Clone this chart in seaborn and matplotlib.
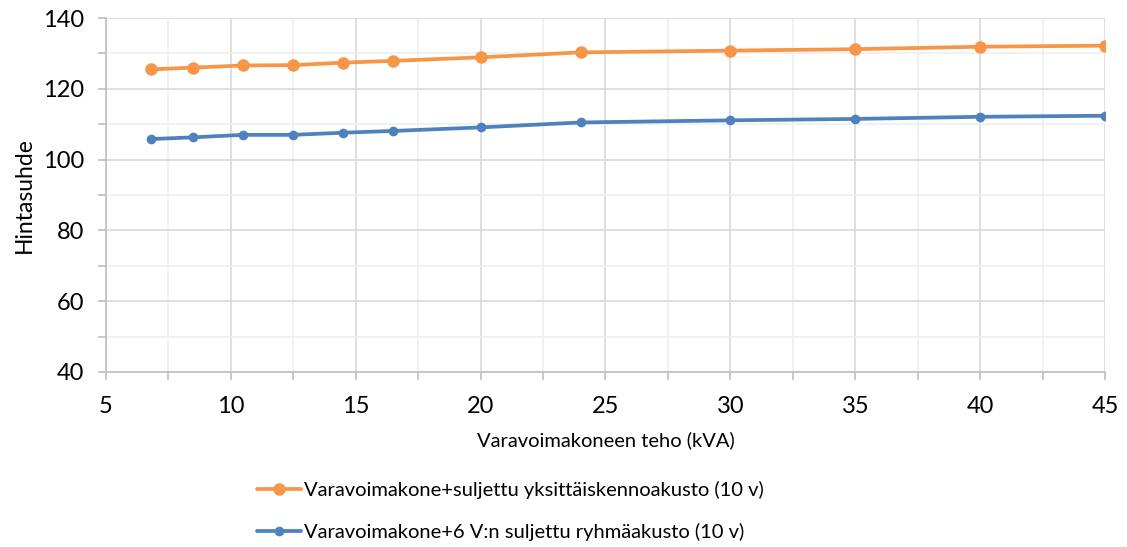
import pandas as pd
import matplotlib
matplotlib.use("Agg")
import matplotlib.pyplot as plt
from matplotlib.ticker import MultipleLocator
import seaborn as sns

# Data
teho = [6.8, 8.5, 10.5, 12.5, 14.5, 16.5, 20, 24, 30, 35, 40, 45]
yksittais = [125.5, 126.0, 126.6, 126.7, 127.4, 127.9, 128.9, 130.3, 130.8, 131.2, 131.9, 132.2]
ryhma = [105.8, 106.3, 107.0, 107.0, 107.6, 108.1, 109.1, 110.5, 111.1, 111.5, 112.1, 112.4]

label_orange = "Varavoimakone+suljettu yksittäiskennoakusto (10 v)"
label_blue = "Varavoimakone+6 V:n suljettu ryhmäakusto (10 v)"

df = pd.DataFrame({"teho": teho, "yksittais": yksittais, "ryhma": ryhma})

sns.set_style("white")
plt.rcParams['font.family'] = ['Lato', 'DejaVu Sans']
plt.rcParams['text.color'] = 'black'
plt.rcParams['axes.labelcolor'] = 'black'

fig = plt.figure(figsize=(11.27, 5.47), dpi=100)
ax = fig.add_axes([0.094, 0.320, 0.8865, 0.647])

sns.lineplot(data=df, x="teho", y="yksittais", ax=ax, color="#F79646", linewidth=2.7,
             marker="o", markersize=9, markeredgewidth=0, label=label_orange)
sns.lineplot(data=df, x="teho", y="ryhma", ax=ax, color="#4F81BD", linewidth=2.7,
             marker="o", markersize=7, markeredgewidth=0, label=label_blue)

ax.set_xlim(5, 45)
ax.set_ylim(40, 140)
ax.xaxis.set_major_locator(MultipleLocator(5))
ax.xaxis.set_minor_locator(MultipleLocator(2.5))
ax.yaxis.set_major_locator(MultipleLocator(20))
ax.yaxis.set_minor_locator(MultipleLocator(10))

ax.grid(which="major", color="#D9D9D9", linewidth=1.2)
ax.grid(which="minor", color="#EFEFEF", linewidth=1.2)
ax.set_axisbelow(True)

for s in ["top", "right"]:
    ax.spines[s].set_visible(False)
for s in ["left", "bottom"]:
    ax.spines[s].set_color("#BFBFBF")
    ax.spines[s].set_linewidth(1.2)

ax.tick_params(which="both", direction="out", color="#BFBFBF", width=1.2, length=5.5,
               labelcolor="black", labelsize=17, left=True, bottom=True)
ax.tick_params(axis="x", which="both", pad=12)
ax.tick_params(axis="y", which="both", pad=10)

ax.set_xlabel("Varavoimakoneen teho (kVA)", fontsize=14.5, labelpad=10)
ax.set_ylabel("Hintasuhde", fontsize=16.5, labelpad=6)

ax.legend(loc="upper left", bbox_to_anchor=(0.221, 0.135), bbox_transform=fig.transFigure,
          frameon=False, fontsize=14.5, handlelength=2.2, handletextpad=0.15, labelspacing=1.17,
          borderaxespad=0)

fig.savefig("out.png", dpi=100)
